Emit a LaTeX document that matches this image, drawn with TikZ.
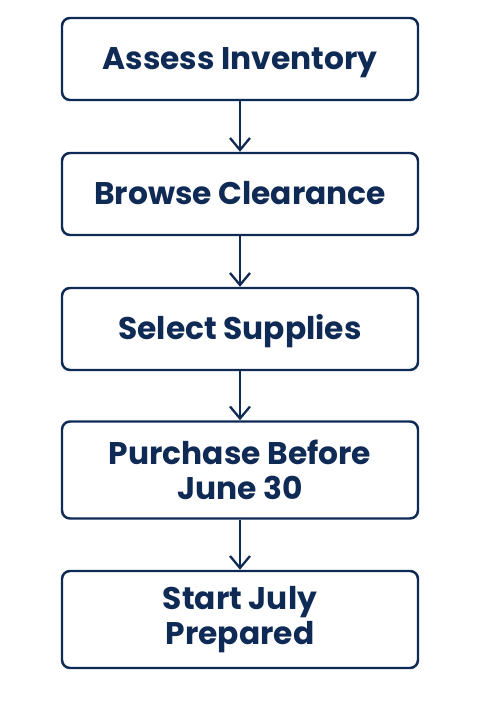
\documentclass[tikz,border=0pt]{standalone}
\usepackage{fontspec}
\setmainfont{Poppins}
\usetikzlibrary{arrows.meta}
\definecolor{navy}{HTML}{0F2A55}
\tikzset{
  stepbox/.style={draw=navy, line width=1.4pt, rounded corners=0.16cm, fill=white,
    minimum width=7.12cm, align=center, text=navy, font=\fontsize{17.8}{20}\selectfont\bfseries},
  oneline/.style={text height=0.44cm, text depth=0pt},
  flow/.style={draw=navy, line width=1.3pt, -{Straight Barb[length=2.4mm,width=4mm,line width=1.3pt]}}
}
\begin{document}
\begin{tikzpicture}
			%%%%% START %%%%%
			\def\xc{4.8}
			\def\hsm{1.64cm}
			\def\hlg{1.94cm}

			\useasboundingbox (0,0) rectangle (9.6,14.4);

			\node[stepbox, oneline, minimum height=\hsm] (assess) at (\xc,13.22) {Assess Inventory};
			\node[stepbox, oneline, minimum height=\hsm] (browse) at (\xc,10.52) {Browse Clearance};
			\node[stepbox, oneline, minimum height=\hsm] (select) at (\xc,7.82) {Select Supplies};
			\node[stepbox, minimum height=\hlg] (purchase) at (\xc,5.0) {Purchase Before\\June 30};
			\node[stepbox, minimum height=\hlg] (start) at (\xc,2.01) {Start July\\Prepared};

			\draw[flow] (assess) -- (browse);
			\draw[flow] (browse) -- (select);
			\draw[flow] (select) -- (purchase);
			\draw[flow] (purchase) -- (start);
			%%%%% END %%%%%
\end{tikzpicture}
\end{document}
